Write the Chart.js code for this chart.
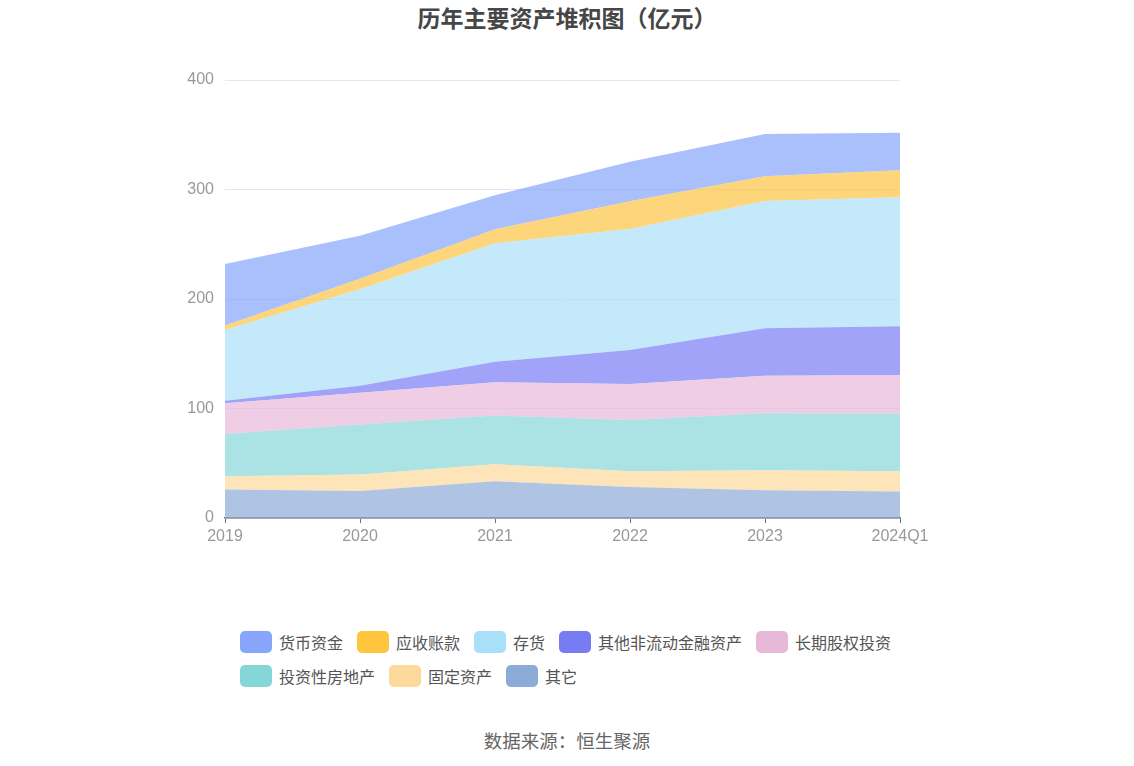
<!DOCTYPE html>
<html>
<head>
<meta charset="utf-8">
<script src="https://cdn.jsdelivr.net/npm/chart.js@4/dist/chart.umd.min.js"></script>
<style>
  body { margin: 0; background: #fff; font-family: "Noto Sans CJK SC", "Noto Sans", sans-serif; }
  #wrap { position: relative; width: 1134px; height: 766px; }
  #title { position: absolute; top: 0px; left: 0; width: 1134px; text-align: center; font-size: 23px; font-weight: bold; color: #464646; }
  #chartBox { position: absolute; top: 0; left: 0; width: 1134px; height: 600px; }
  #legend { position: absolute; left: 240px; top: 625px; width: 700px; font-size: 16px; color: #555; }
  .row { display: flex; height: 34px; align-items: center; }
  .item { display: flex; align-items: center; margin-right: 14px; }
  .box { width: 32px; height: 22px; border-radius: 5px; margin-right: 7px; }
  #source { position: absolute; top: 727px; left: 0; width: 1134px; text-align: center; font-size: 18.5px; color: #666; }
</style>
</head>
<body>
<div id="wrap">
  <div id="title">历年主要资产堆积图（亿元）</div>
  <div id="chartBox"><canvas id="assetChart" width="1134" height="600"></canvas></div>
  <div id="legend"></div>
  <div id="source">数据来源：恒生聚源</div>
</div>
<script>
// 年份
const years = ['2019', '2020', '2021', '2022', '2023', '2024Q1'];
const yTicks = [0, 100, 200, 300, 400];

// 各项资产（亿元），从下往上堆积
const otherAssets   = [26.0, 24.7, 33.6, 28.4, 25.4, 24.1];   // 其它
const fixedAssets   = [12.2, 15.0, 15.6, 14.3, 18.3, 18.6];   // 固定资产
const investProp    = [38.4, 45.8, 44.5, 46.7, 51.9, 52.5];   // 投资性房地产
const longEquity    = [28.1, 28.9, 30.2, 33.0, 34.4, 35.4];   // 长期股权投资
const otherFinance  = [2.4, 6.4, 18.9, 31.1, 43.4, 44.6];     // 其他非流动金融资产
const inventory     = [64.7, 88.2, 108.0, 110.5, 116.2, 117.7]; // 存货
const receivables   = [4.0, 9.5, 12.8, 25.2, 22.5, 24.7];     // 应收账款
const cash          = [56.2, 39.3, 31.1, 36.1, 38.5, 34.2];   // 货币资金

const series = [
    { label: '其它', data: otherAssets, color: '141,171,215' },
    { label: '固定资产', data: fixedAssets, color: '252,218,155' },
    { label: '投资性房地产', data: investProp, color: '135,214,215' },
    { label: '长期股权投资', data: longEquity, color: '232,184,216' },
    { label: '其他非流动金融资产', data: otherFinance, color: '119,124,243' },
    { label: '存货', data: inventory, color: '169,224,249' },
    { label: '应收账款', data: receivables, color: '252,195,65' },
    { label: '货币资金', data: cash, color: '134,165,251' }
];

const datasets = series.map((s, i) => ({
    label: s.label,
    data: s.data,
    backgroundColor: 'rgba(' + s.color + ',0.7)',
    borderWidth: 0,
    pointRadius: 0,
    pointHoverRadius: 0,
    tension: 0,
    fill: i === 0 ? 'origin' : '-1'
}));

new Chart(document.getElementById('assetChart'), {
    type: 'line',
    data: { labels: years, datasets: datasets },
    options: {
        responsive: false,
        animation: false,
        layout: { padding: { left: 165, right: 234, top: 80, bottom: 52 } },
        plugins: {
            legend: { display: false },
            tooltip: { enabled: false }
        },
        scales: {
            x: {
                offset: false,
                afterFit: (s) => { s.height = 30; },
                grid: { drawOnChartArea: false, drawTicks: true, tickLength: 5, color: '#6e7079' },
                border: { color: '#6e7079', width: 1.5 },
                ticks: { color: '#999', font: { size: 16 }, padding: 4, maxRotation: 0 }
            },
            y: {
                stacked: true,
                min: 0,
                max: 400,
                afterFit: (s) => { s.width = 60; },
                afterBuildTicks: (s) => { s.ticks = yTicks.map(v => ({ value: v })); },
                grid: { color: '#e3e6f5', drawTicks: false },
                border: { display: false },
                ticks: { color: '#999', font: { size: 16 }, padding: 11 }
            }
        }
    }
});

// legend, same order as reference
const legendRows = [
    ['货币资金', '应收账款', '存货', '其他非流动金融资产', '长期股权投资'],
    ['投资性房地产', '固定资产', '其它']
];
const legendColors = {
    '货币资金': '#86a5fb', '应收账款': '#ffc53d', '存货': '#a9e0f9', '其他非流动金融资产': '#777cf3',
    '长期股权投资': '#e8b8d8', '投资性房地产': '#87d6d7', '固定资产': '#fcda9b', '其它': '#8dabd7'
};
const legendEl = document.getElementById('legend');
legendRows.forEach(row => {
    const r = document.createElement('div');
    r.className = 'row';
    row.forEach(name => {
        const it = document.createElement('div');
        it.className = 'item';
        it.innerHTML = '<div class="box" style="background:' + legendColors[name] + '"></div><span>' + name + '</span>';
        r.appendChild(it);
    });
    legendEl.appendChild(r);
});
</script>
</body>
</html>
